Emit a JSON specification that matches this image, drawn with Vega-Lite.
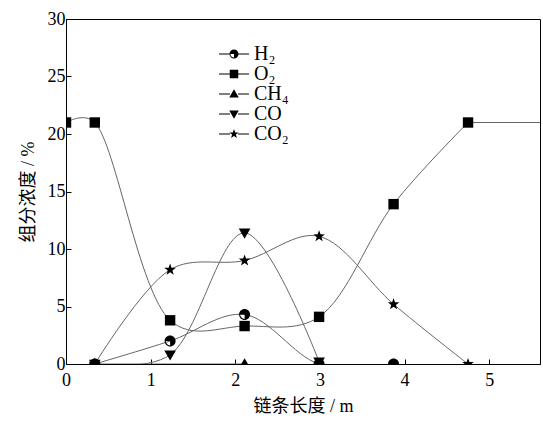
{
  "$schema": "https://vega.github.io/schema/vega-lite/v6.json",
  "width": 474,
  "height": 345,
  "padding": {"left": 19, "top": 10, "right": 1, "bottom": 5},
  "background": "white",
  "config": {
    "view": {"stroke": "black", "strokeWidth": 1},
    "axis": {
      "grid": false,
      "domainColor": "black",
      "tickColor": "black",
      "tickSize": -5,
      "labelFont": "Liberation Serif",
      "labelFontSize": 18,
      "labelColor": "black",
      "labelFlush": false,
      "titleFont": "Liberation Serif, Noto Sans CJK SC",
      "titleFontSize": 18,
      "titleColor": "black",
      "titleFontWeight": "normal"
    }
  },
  "datasets": {
    "pts": [
      {"s": "H₂", "x": 0.34, "y": 0},
      {"s": "H₂", "x": 1.23, "y": 2.0},
      {"s": "H₂", "x": 2.11, "y": 4.3},
      {"s": "H₂", "x": 2.99, "y": 0},
      {"s": "H₂", "x": 3.87, "y": 0},
      {"s": "O₂", "x": 0, "y": 21.0},
      {"s": "O₂", "x": 0.34, "y": 21.0},
      {"s": "O₂", "x": 1.23, "y": 3.8},
      {"s": "O₂", "x": 2.11, "y": 3.3},
      {"s": "O₂", "x": 2.99, "y": 4.1},
      {"s": "O₂", "x": 3.87, "y": 13.9},
      {"s": "O₂", "x": 4.75, "y": 21.0},
      {"s": "CH₄", "x": 0.34, "y": 0},
      {"s": "CH₄", "x": 2.11, "y": 0},
      {"s": "CO", "x": 0.34, "y": 0},
      {"s": "CO", "x": 1.23, "y": 0.8},
      {"s": "CO", "x": 2.11, "y": 11.4},
      {"s": "CO", "x": 2.99, "y": 0.2},
      {"s": "CO₂", "x": 0.34, "y": 0},
      {"s": "CO₂", "x": 1.23, "y": 8.2},
      {"s": "CO₂", "x": 2.11, "y": 9.0},
      {"s": "CO₂", "x": 2.99, "y": 11.1},
      {"s": "CO₂", "x": 3.87, "y": 5.2},
      {"s": "CO₂", "x": 4.75, "y": 0}
    ],
    "tail": [
      {"s": "O₂", "x": 4.75, "y": 21.0},
      {"s": "O₂", "x": 5.6, "y": 21.0}
    ]
  },
  "layer": [
    {
      "data": {"name": "pts"},
      "mark": {"type": "line", "interpolate": "catmull-rom", "tension": 0.35, "color": "#666", "strokeWidth": 1, "clip": true},
      "encoding": {
        "x": {"field": "x", "type": "quantitative", "scale": {"domain": [0, 5.6], "nice": false, "zero": false}, "axis": {"values": [0, 1, 2, 3, 4, 5], "format": "d", "title": "链条长度 / m", "titlePadding": 8, "labelPadding": 12}},
        "y": {"field": "y", "type": "quantitative", "scale": {"domain": [0, 30], "nice": false}, "axis": {"values": [0, 5, 10, 15, 20, 25, 30], "format": "d", "title": "组分浓度 / %", "titlePadding": 10, "labelPadding": 6}},
        "detail": {"field": "s"}
      }
    },
    {
      "data": {"name": "tail"},
      "mark": {"type": "line", "color": "#666", "strokeWidth": 1, "clip": true},
      "encoding": {
        "x": {"field": "x", "type": "quantitative"},
        "y": {"field": "y", "type": "quantitative"}
      }
    },
    {
      "data": {"name": "pts"},
      "mark": {"type": "point", "filled": true, "fill": "black", "stroke": null, "opacity": 1, "size": 150, "clip": true},
      "encoding": {
        "x": {"field": "x", "type": "quantitative"},
        "y": {"field": "y", "type": "quantitative"},
        "shape": {
          "field": "s", "type": "nominal", "legend": null,
          "scale": {
            "domain": ["H₂", "O₂", "CH₄", "CO", "CO₂"],
            "range": [
              "M0.9,0A0.9,0.9,0,1,1,-0.9,0A0.9,0.9,0,1,1,0.9,0ZM0.72,0A0.72,0.72,0,1,0,-0.72,0A0.72,0.72,0,1,0,0.72,0ZM0,0L-0.72,0A0.72,0.72,0,1,1,0,0.72Z",
              "M-0.85,-0.85L0.85,-0.85L0.85,0.85L-0.85,0.85Z",
              "M0,-0.95L0.95,0.7L-0.95,0.7Z",
              "M0,0.95L0.95,-0.7L-0.95,-0.7Z",
              "M0,-1L0.235,-0.324L0.951,-0.309L0.38,0.124L0.588,0.809L0,0.4L-0.588,0.809L-0.38,0.124L-0.951,-0.309L-0.235,-0.324Z"
            ]
          }
        }
      }
    },
    {
      "data": {"name": "pts"},
      "mark": {"type": "point", "filled": true, "fill": "black", "stroke": null, "opacity": 0, "size": 100, "clip": true},
      "encoding": {
        "x": {"field": "x", "type": "quantitative"},
        "y": {"field": "y", "type": "quantitative"},
        "shape": {
          "field": "s", "type": "nominal",
          "scale": {
            "domain": ["H₂", "O₂", "CH₄", "CO", "CO₂"],
            "range": [
              "M-3,-0.1L-0.8,-0.1L-0.8,0.1L-3,0.1ZM0.8,-0.1L3,-0.1L3,0.1L0.8,0.1ZM0.9,0A0.9,0.9,0,1,1,-0.9,0A0.9,0.9,0,1,1,0.9,0ZM0.72,0A0.72,0.72,0,1,0,-0.72,0A0.72,0.72,0,1,0,0.72,0ZM0,0L-0.72,0A0.72,0.72,0,1,1,0,0.72Z",
              "M-3,-0.1L-0.8,-0.1L-0.8,0.1L-3,0.1ZM0.8,-0.1L3,-0.1L3,0.1L0.8,0.1ZM-0.85,-0.85L0.85,-0.85L0.85,0.85L-0.85,0.85Z",
              "M-3,-0.1L-0.8,-0.1L-0.8,0.1L-3,0.1ZM0.8,-0.1L3,-0.1L3,0.1L0.8,0.1ZM0,-0.95L0.95,0.7L-0.95,0.7Z",
              "M-3,-0.1L-0.8,-0.1L-0.8,0.1L-3,0.1ZM0.8,-0.1L3,-0.1L3,0.1L0.8,0.1ZM0,0.95L0.95,-0.7L-0.95,-0.7Z",
              "M-3,-0.1L-0.8,-0.1L-0.8,0.1L-3,0.1ZM0.8,-0.1L3,-0.1L3,0.1L0.8,0.1ZM0,-1L0.235,-0.324L0.951,-0.309L0.38,0.124L0.588,0.809L0,0.4L-0.588,0.809L-0.38,0.124L-0.951,-0.309L-0.235,-0.324Z"
            ]
          },
          "legend": {
            "title": null,
            "orient": "none",
            "legendX": 158,
            "legendY": 25,
            "padding": 0,
            "symbolSize": 100,
            "symbolOpacity": 1,
            "symbolFillColor": "black",
            "symbolStrokeWidth": 0,
            "labelFont": "Liberation Serif",
            "labelFontSize": 20,
            "labelColor": "black",
            "labelOffset": 10,
            "rowPadding": 0
          }
        }
      }
    }
  ],
  "resolve": {"scale": {"shape": "independent"}, "legend": {"shape": "independent"}}
}
